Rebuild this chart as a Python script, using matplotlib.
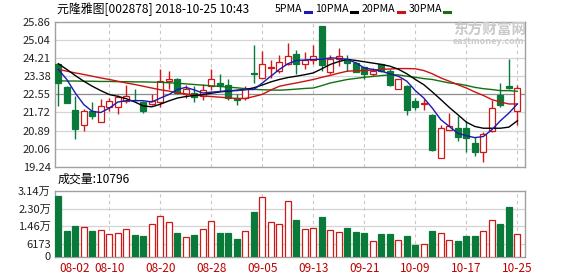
import numpy as np
import matplotlib
matplotlib.use('Agg')
import matplotlib.pyplot as plt
from matplotlib.lines import Line2D

plt.rcParams['font.family'] = ['Noto Sans CJK SC', 'DejaVu Sans']

# daily data, 2018-08-02 .. 2018-10-25 (55 trading days)
opens = [23.92, 22.87, 21.85, 21.13, 21.80, 21.28, 21.95, 21.95, 22.26, 22.30,
         22.20, 22.12, 22.20, 23.15, 23.26, 22.57, 22.61, 22.46, 22.92, 23.07,
         22.96, 22.38, 22.38, 23.53, 23.30, 23.76, 23.64, 23.95, 24.41, 23.95,
         24.10, 25.68, 23.58, 24.15, 24.19, 23.99, 23.79, 23.49, 23.92, 23.64,
         22.81, 22.95, 22.26, 22.12, 21.62, 19.65, 20.93, 21.00, 21.03, 20.32,
         19.90, 20.88, 22.54, 22.92, 21.77]
highs = [23.99, 22.95, 22.46, 21.89, 22.20, 22.35, 22.38, 22.54, 22.96, 22.80,
         22.25, 22.57, 23.73, 23.64, 23.28, 23.00, 22.92, 23.03, 23.69, 23.46,
         23.23, 22.57, 22.92, 24.83, 24.53, 24.10, 24.37, 24.91, 24.60, 24.50,
         24.83, 25.68, 24.37, 24.65, 24.37, 24.02, 23.80, 23.76, 23.95, 23.69,
         23.23, 23.00, 22.38, 22.35, 21.65, 21.16, 21.69, 21.54, 21.34, 20.62,
         20.85, 22.31, 23.07, 24.15, 22.99]
lows = [22.03, 22.15, 20.51, 20.88, 21.43, 21.28, 21.77, 21.65, 22.15, 22.26,
        21.69, 22.05, 21.95, 22.80, 22.58, 22.38, 22.20, 22.31, 22.77, 22.72,
        22.31, 22.08, 22.31, 23.07, 23.30, 23.30, 23.53, 23.91, 23.49, 23.73,
        23.95, 23.61, 23.46, 23.84, 23.61, 23.55, 23.23, 23.38, 23.55, 22.92,
        22.78, 21.62, 21.85, 21.85, 19.97, 19.65, 20.90, 20.42, 19.93, 19.75,
        19.47, 20.85, 21.95, 22.81, 21.16]
closes = [23.07, 22.15, 20.97, 21.80, 21.58, 22.00, 22.26, 22.41, 22.49, 22.27,
          21.77, 22.23, 23.15, 23.27, 22.62, 22.81, 22.41, 22.77, 23.27, 22.96,
          22.38, 22.29, 22.81, 23.46, 23.95, 23.80, 24.04, 24.30, 23.95, 24.10,
          24.30, 23.88, 24.19, 24.30, 23.99, 23.58, 23.49, 23.64, 23.61, 23.00,
          23.23, 21.85, 21.95, 22.15, 20.01, 21.00, 21.11, 20.62, 20.57, 19.90,
          20.73, 21.92, 22.05, 22.84, 22.84]
volumes = [28900, 12400, 14700, 14000, 12400, 12800, 10700, 11200, 13100, 10400,
           9600, 15500, 19500, 16400, 11200, 9300, 10400, 13200, 17100, 11200,
           11200, 8500, 12300, 21400, 28400, 16400, 15500, 26600, 17500, 13200,
           13600, 18800, 12800, 11700, 13600, 11800, 11200, 7500, 10800, 10800,
           8000, 9900, 5600, 6100, 12400, 11200, 8000, 7500, 9600, 9900,
           12300, 17500, 15600, 23700, 10796]

# moving averages as shown on the chart
ma5 = [23.69, 23.23, 22.61, 22.08, 21.77, 21.72, 21.92, 22.20, 22.26, 22.26,
       22.26, 22.20, 22.38, 22.54, 22.77, 22.87, 22.75, 22.61, 22.65, 22.68,
       22.72, 22.72, 22.77, 22.77, 23.07, 23.38, 23.69, 23.95, 24.10, 24.12,
       24.15, 24.15, 24.22, 24.20, 24.15, 23.99, 23.76, 23.69, 23.61, 23.49,
       23.38, 23.15, 22.72, 22.38, 21.92, 21.39, 21.08, 20.77, 20.66, 20.57,
       20.62, 20.93, 21.34, 21.69, 22.11]
ma10 = [23.95, 23.69, 23.41, 23.15, 22.92, 22.72, 22.54, 22.46, 22.35, 22.20,
        22.02, 21.98, 22.10, 22.25, 22.38, 22.45, 22.50, 22.54, 22.60, 22.66,
        22.70, 22.74, 22.77, 22.85, 22.98, 23.12, 23.23, 23.32, 23.38, 23.45,
        23.53, 23.72, 23.92, 24.05, 24.15, 24.10, 24.04, 23.98, 23.92, 23.84,
        23.70, 23.49, 23.23, 22.99, 22.66, 22.31, 21.95, 21.62, 21.28, 21.08,
        21.00, 21.00, 21.00, 21.05, 21.34]
ma20 = [23.69, 23.61, 23.53, 23.46, 23.38, 23.30, 23.23, 23.15, 23.07, 23.00,
        22.92, 22.84, 22.76, 22.70, 22.62, 22.57, 22.52, 22.48, 22.45, 22.42,
        22.39, 22.36, 22.36, 22.45, 22.55, 22.75, 22.92, 23.00, 23.07, 23.15,
        23.23, 23.33, 23.42, 23.52, 23.61, 23.63, 23.64, 23.66, 23.69, 23.71,
        23.73, 23.73, 23.72, 23.64, 23.49, 23.30, 23.15, 22.99, 22.84, 22.66,
        22.50, 22.31, 22.20, 22.11, 22.11]
ma30 = [23.17, 23.16, 23.16, 23.15, 23.15, 23.14, 23.14, 23.13, 23.13, 23.12,
        23.12, 23.11, 23.10, 23.08, 23.06, 23.03, 23.00, 22.97, 22.94, 22.91,
        22.88, 22.85, 22.81, 22.78, 22.76, 22.75, 22.74, 22.76, 22.79, 22.82,
        22.84, 22.95, 23.07, 23.15, 23.23, 23.28, 23.33, 23.37, 23.41, 23.44,
        23.44, 23.38, 23.33, 23.27, 23.23, 23.15, 23.07, 23.03, 22.96, 22.87,
        22.81, 22.77, 22.72, 22.72, 22.69]

price_ticks = [19.24, 20.06, 20.89, 21.72, 22.55, 23.38, 24.21, 25.04, 25.86]
vol_ticks = [0, 6173, 14600, 23000, 31400]
vol_labels = ['0', '6173', '1.46万', '2.30万', '3.14万']
date_pos = [0, 6, 12, 18, 24, 30, 36, 42, 48, 54]
date_labels = ['08-02', '08-10', '08-20', '08-28', '09-05', '09-13',
               '09-21', '10-09', '10-17', '10-25']

RED = '#d01818'
GREEN = '#0a7a3a'
GRID = '#d4d4d4'
FRAME = '#a0a0a0'

W, H = 578, 276
fig = plt.figure(figsize=(W / 100, H / 100), dpi=100)

def px(x, y):
    return x / W, 1 - y / H

ax = fig.add_axes([55 / W, 1 - 166.7 / H, 470 / W, 144.7 / H])
axv = fig.add_axes([55 / W, 1 - 256.5 / H, 470 / W, 65.5 / H])

x = np.arange(len(closes))
o = np.array(opens); c = np.array(closes)
up = c >= o
xlim = (-0.39, 54.9)

for a in (ax, axv):
    a.set_xlim(*xlim)
    for s in a.spines.values():
        s.set_color(FRAME)
        s.set_linewidth(1)
    for p in date_pos[1:]:
        a.axvline(p, color='#c8c8c8', lw=0.8, ls=(0, (3, 3)), zorder=0)
    a.tick_params(length=0, labelsize=8, colors='#222222', pad=3)
    a.set_xticks([])

# price panel
ax.set_ylim(price_ticks[0], price_ticks[-1])
ax.set_yticks(price_ticks)
for t in price_ticks[1:-1]:
    col = '#8c8c8c' if t == 22.55 else GRID
    ax.axhline(t, color=col, lw=0.9, zorder=0)

cols = [RED if u else GREEN for u in up]
ax.vlines(x, lows, highs, colors=cols, lw=1, zorder=2)
body_bot = np.minimum(o, c)
body_h = np.maximum(np.abs(c - o), 0.02)
ax.bar(x, body_h, bottom=body_bot, width=0.7,
       color=['white' if u else GREEN for u in up],
       edgecolor=cols, linewidth=0.9, zorder=3)

ax.plot(x, ma30, color='#127012', lw=1, zorder=4)
ax.plot(x, ma20, color='#cc1111', lw=1, zorder=4)
ax.plot(x, ma10, color='black', lw=1, zorder=4)
ax.plot(x, ma5, color='#1a1ab0', lw=1, zorder=4)

# volume panel
axv.set_ylim(0, vol_ticks[-1])
axv.set_yticks(vol_ticks)
axv.set_yticklabels(vol_labels)
for t in vol_ticks[1:-1]:
    axv.axhline(t, color=GRID, lw=0.9, zorder=0)
axv.bar(x, volumes, width=0.7,
        color=['white' if u else GREEN for u in up],
        edgecolor=cols, linewidth=0.9, zorder=3)

# date labels under volume panel
for p, lab in zip(date_pos, date_labels):
    xx = 58.3 + 8.5 * p
    ha = 'center'
    if p == 0:
        xx, ha = 59, 'left'
    fig.text(*px(xx, 268), lab, color='#c00000', fontsize=8.5,
             ha=ha, va='center')

# title and legend
fig.text(*px(57, 9.5), '元隆雅图[002878] 2018-10-25 10:43', fontsize=8.6,
         ha='left', va='center', color='black')
legend = [('5PMA', '#1a1ab0'), ('10PMA', 'black'),
          ('20PMA', '#cc1111'), ('30PMA', '#127012')]
xx = 275
for lab, col in legend:
    t = fig.text(*px(xx, 9.5), lab, fontsize=7.6, ha='left', va='center')
    fig.canvas.draw()
    bb = t.get_window_extent()
    x0 = bb.x1 + 2
    fig.add_artist(Line2D([x0 / W, (x0 + 6) / W], [1 - 11.5 / H] * 2,
                          transform=fig.transFigure, color=col, lw=2.2))
    xx = x0 + 6 + 5

fig.text(*px(58, 179), '成交量:10796', fontsize=8.6, ha='left', va='center',
         color='black')

# watermark
fig.text(*px(453, 30), '东方财富网', fontsize=10.5, fontweight='bold',
         color='#cacaca', ha='left', va='center')
fig.text(*px(453, 42), 'eastmoney.com', fontsize=6.5, fontweight='bold',
         color='#cacaca', ha='left', va='center')

fig.savefig('out.png', dpi=100)
